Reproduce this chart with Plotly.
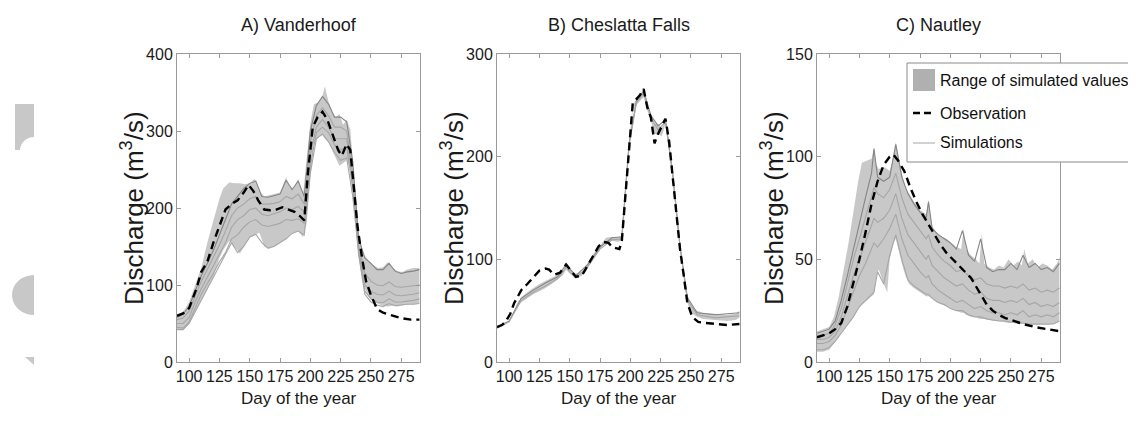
import plotly.graph_objects as go

# ---------------- data ----------------
tick_days = [100, 125, 150, 175, 200, 225, 250, 275]

# A) Vanderhoof
A_obs_days = [90, 95, 100, 103, 106, 110, 115, 120, 125, 130, 135, 140, 145, 149, 153, 157, 162, 167, 172, 177,
              182, 187, 191, 195, 198, 202, 206, 210, 214, 219, 223, 226, 230, 233, 236, 239, 243, 246, 250, 255,
              260, 267, 275, 283, 290]
A_obs = [60, 63, 70, 84, 95, 117, 130, 155, 177, 198, 205, 210, 220, 230, 222, 210, 198, 197, 198, 201,
         198, 195, 190, 184, 245, 305, 318, 325, 315, 292, 275, 268, 283, 275, 225, 175, 132, 105, 87, 69,
         64, 61, 57, 55, 55]
A_band_days = [90, 95, 100, 105, 110, 115, 120, 125, 128, 133, 138, 142, 146, 150, 154, 158, 162, 166, 170, 175,
               180, 183, 186, 190, 194, 197, 200, 203, 207, 210, 212, 215, 218, 221, 224, 227, 230, 233, 236, 240,
               244, 248, 252, 256, 260, 264, 268, 272, 276, 280, 285, 290]
A_upper = [62, 65, 78, 100, 122, 155, 185, 212, 225, 233, 232, 232, 231, 232, 238, 222, 215, 216, 218, 220,
           240, 228, 225, 238, 218, 260, 310, 335, 337, 345, 358, 338, 325, 318, 322, 308, 315, 302, 240, 165,
           140, 132, 126, 122, 123, 130, 122, 118, 117, 120, 122, 122]
A_lower = [42, 42, 50, 65, 80, 95, 110, 135, 145, 157, 148, 141, 152, 162, 165, 168, 150, 147, 150, 155,
           160, 165, 168, 170, 162, 180, 240, 285, 292, 295, 290, 285, 275, 265, 255, 258, 262, 250, 200, 140,
           100, 85, 78, 75, 73, 72, 73, 72, 74, 75, 75, 76]
A_sim_days = [90, 95, 100, 105, 110, 115, 120, 125, 130, 135, 140, 145, 150, 155, 160, 165, 170, 175, 180, 185,
              190, 195, 200, 205, 210, 215, 220, 225, 230, 235, 240, 245, 250, 255, 260, 265, 270, 275, 280, 285, 290]
A_sim1 = [58, 62, 72, 92, 112, 128, 145, 165, 185, 205, 215, 225, 232, 235, 215, 214, 216, 218, 236, 224,
          235, 215, 300, 333, 345, 335, 318, 318, 312, 260, 160, 135, 128, 120, 120, 128, 118, 115, 117, 118, 120]
A_sim2 = [55, 57, 66, 85, 105, 120, 135, 152, 170, 190, 200, 205, 212, 215, 205, 205, 206, 208, 215, 212,
          218, 205, 285, 320, 330, 320, 305, 305, 300, 245, 150, 115, 105, 100, 99, 104, 98, 97, 98, 99, 100]
A_sim3 = [50, 50, 58, 78, 95, 110, 125, 140, 155, 175, 185, 190, 198, 200, 192, 190, 192, 195, 200, 198,
          202, 195, 270, 305, 315, 305, 290, 290, 290, 235, 145, 100, 92, 88, 87, 92, 87, 86, 87, 88, 90]
A_sim4 = [45, 44, 52, 70, 88, 102, 115, 130, 142, 160, 165, 175, 182, 185, 178, 176, 178, 180, 185, 184,
          186, 180, 255, 298, 305, 298, 282, 275, 280, 225, 140, 92, 82, 78, 77, 82, 78, 78, 79, 80, 82]
A_sim5 = [42, 42, 50, 65, 80, 95, 110, 125, 140, 155, 142, 150, 162, 166, 155, 148, 150, 155, 160, 167,
          170, 165, 245, 290, 296, 286, 272, 262, 265, 215, 138, 88, 78, 74, 72, 76, 73, 74, 75, 75, 76]

# B) Cheslatta Falls
B_obs_days = [90, 94, 97, 101, 104, 107, 110, 115, 120, 125, 130, 133, 137, 142, 147, 151, 155, 160, 166, 170,
              174, 178, 182, 185, 188, 191, 193, 196, 199, 202, 205, 208, 211, 214, 217, 220, 222, 225, 229, 232,
              235, 238, 241, 244, 247, 251, 256, 262, 270, 280, 290]
B_obs = [34, 36, 39, 47, 57, 63, 70, 76, 83, 89, 91, 90, 85, 87, 95, 89, 83, 84, 97, 105,
         113, 117, 116, 112, 111, 110, 118, 160, 210, 252, 256, 260, 266, 248, 238, 213, 220, 228, 237, 215,
         182, 145, 110, 85, 58, 44, 39, 38, 37, 36, 37]
B_band_days = [90, 95, 100, 104, 107, 110, 115, 120, 125, 130, 135, 140, 144, 147, 150, 155, 160, 165, 170, 175,
               180, 185, 190, 193, 196, 199, 202, 205, 208, 211, 214, 217, 220, 223, 226, 229, 232, 235, 238, 241,
               244, 247, 250, 255, 260, 270, 280, 287, 290]
B_upper = [34, 36, 40, 50, 58, 63, 68, 72, 76, 79, 82, 85, 88, 96, 91, 86, 88, 97, 106, 114,
           121, 122, 121, 123, 165, 215, 250, 256, 260, 266, 250, 242, 232, 232, 228, 238, 215, 185, 148, 115,
           88, 66, 55, 50, 48, 47, 46, 47, 50]
B_lower = [33, 35, 39, 48, 55, 58, 62, 66, 69, 72, 76, 80, 84, 90, 86, 81, 84, 92, 102, 110,
           117, 118, 117, 119, 160, 210, 245, 250, 254, 258, 245, 235, 222, 222, 220, 232, 210, 180, 143, 110,
           82, 58, 48, 44, 42, 41, 40, 41, 43]
B_sim_days = [90, 100, 110, 120, 130, 140, 147, 155, 165, 175, 185, 193, 199, 205, 211, 217, 223, 229, 235, 241,
              247, 255, 270, 290]
B_sim1 = [34, 40, 62, 70, 77, 83, 95, 84, 95, 112, 121, 122, 213, 254, 264, 240, 230, 236, 183, 113, 63, 48, 46, 48]
B_sim2 = [33, 39, 60, 68, 74, 81, 92, 82, 93, 110, 119, 120, 211, 252, 262, 238, 226, 234, 182, 112, 61, 46, 43, 45]

# C) Nautley
C_obs_days = [90, 95, 100, 105, 110, 115, 120, 125, 130, 135, 140, 145, 150, 153, 157, 162, 167, 172, 177, 182,
              187, 192, 197, 202, 207, 212, 217, 221, 225, 230, 235, 240, 245, 250, 260, 270, 280, 290]
C_obs = [12, 13, 14, 16, 19, 27, 38, 50, 63, 77, 88, 96, 100, 101, 98, 93, 85, 78, 72, 67,
         62, 57, 53, 50, 47, 44, 41, 37, 33, 28, 25, 23, 21.5, 20.5, 18.5, 17, 16, 15]
C_band_days = [90, 95, 100, 104, 108, 112, 116, 120, 124, 127, 131, 135, 137, 139, 141, 145, 148, 150, 153, 155,
               157, 160, 163, 166, 170, 175, 180, 182, 185, 189, 193, 197, 201, 205, 209, 211, 213, 217, 221, 224,
               226, 228, 232, 236, 240, 244, 248, 252, 256, 259, 261, 264, 268, 272, 276, 280, 284, 288, 290]
C_upper = [15, 16, 17, 22, 32, 45, 58, 72, 88, 97, 98, 99, 104, 96, 94, 95, 94, 93, 100, 107,
           100, 92, 85, 82, 78, 74, 72, 79, 66, 63, 61, 60, 58, 56, 55, 65, 55, 52, 50, 48,
           63, 48, 46, 45, 47, 46, 50, 47, 49, 47, 55, 48, 50, 46, 48, 47, 45, 48, 51]
C_lower = [5, 5, 6, 9, 12, 16, 19, 22, 26, 28, 30, 32, 33, 42, 45, 38, 34, 50, 58, 60,
           55, 48, 42, 38, 36, 34, 32, 32, 31, 29, 28, 27, 26, 25, 24, 24, 23, 22, 22, 21,
           21, 21, 20.5, 20, 20, 19.5, 19, 19, 18.5, 18.5, 18.5, 18, 18, 18, 18, 18, 18.5, 19, 20]
C_sim_days = [90, 95, 100, 105, 110, 115, 120, 125, 130, 135, 137, 140, 145, 150, 155, 160, 165, 170, 175, 180,
              182, 185, 190, 195, 200, 205, 210, 215, 220, 225, 230, 235, 240, 245, 250, 255, 260, 265, 270, 275,
              280, 285, 290]
C_sim1 = [14, 15, 16, 20, 30, 42, 55, 68, 80, 92, 104, 90, 88, 90, 106, 90, 82, 77, 73, 70,
          78, 65, 62, 60, 58, 55, 64, 52, 49, 60, 46, 44, 45, 45, 48, 45, 52, 46, 48, 45, 46, 44, 48]
C_sim2 = [13, 13, 14, 18, 26, 38, 50, 60, 70, 80, 85, 82, 80, 84, 92, 80, 72, 68, 64, 60,
          62, 56, 52, 49, 47, 44, 45, 42, 40, 41, 38, 37, 37, 36, 37, 36, 38, 35, 36, 34, 35, 34, 36]
C_sim3 = [11, 11, 12, 15, 22, 32, 42, 50, 58, 66, 70, 68, 70, 74, 82, 70, 62, 58, 54, 50,
          52, 47, 44, 41, 39, 37, 38, 35, 33, 34, 31, 30, 30, 29, 30, 29, 31, 28, 29, 27, 28, 27, 29]
C_sim4 = [9, 9, 10, 13, 18, 26, 34, 42, 48, 55, 58, 56, 60, 65, 72, 60, 52, 48, 44, 41,
          42, 38, 35, 33, 31, 29, 30, 28, 26, 27, 25, 24, 24, 23, 24, 23, 25, 22, 23, 22, 23, 22, 24]
C_sim5 = [6, 6, 7, 10, 14, 18, 22, 27, 30, 33, 34, 44, 38, 52, 62, 50, 40, 37, 35, 33,
          33, 31, 29, 28, 26, 25, 25, 23, 22, 22, 21, 20.5, 20, 20, 19.5, 19, 19, 18.5, 18.5, 18.5, 18.5, 18.5, 20]

panel_titles = ["A) Vanderhoof", "B) Cheslatta Falls", "C) Nautley"]
y_ranges = [[0, 400], [0, 300], [0, 150]]
y_ticks = [[0, 100, 200, 300, 400], [0, 100, 200, 300], [0, 50, 100, 150]]
legend_labels = ["Range of simulated values", "Observation", "Simulations"]
x_title = "Day of the year"
y_title = "Discharge (m<sup>3</sup>/s)"

# ---------------- styling / layout ----------------
# page body keeps an 8px default margin, so the figure is 8px smaller and all
# target pixel positions below are given in window coordinates.
OFF = 8
W, H = 1136 - OFF, 427 - OFF
FONT = "Liberation Sans, Arial, sans-serif"
BAND = "#c8c8c8"
SIM_DARK = "#858585"
SIM = "#a6a6a6"
AX = "#9a9a9a"
TXT = "#1a1a1a"


def px(x):
    return (x - OFF) / W


def py(y):
    return 1 - (y - OFF) / H


x_pix = [(177, 420), (497, 740), (817, 1060)]
y_dom = [py(362), py(54)]

panels = [
    (A_obs_days, A_obs, A_band_days, A_lower, A_upper, A_sim_days, [A_sim1, A_sim2, A_sim3, A_sim4, A_sim5]),
    (B_obs_days, B_obs, B_band_days, B_lower, B_upper, B_sim_days, [B_sim1, B_sim2]),
    (C_obs_days, C_obs, C_band_days, C_lower, C_upper, C_sim_days, [C_sim1, C_sim2, C_sim3, C_sim4, C_sim5]),
]

fig = go.Figure()
for i, (od, ov, bd, lo, up, sd, sims) in enumerate(panels):
    xa = "x" if i == 0 else f"x{i+1}"
    ya = "y" if i == 0 else f"y{i+1}"
    fig.add_trace(go.Scatter(x=bd + bd[::-1], y=lo + up[::-1], fill="toself", fillcolor=BAND,
                             line=dict(width=0), mode="lines", xaxis=xa, yaxis=ya,
                             showlegend=False, hoverinfo="skip"))
    for k, s in enumerate(sims):
        fig.add_trace(go.Scatter(x=sd, y=s, mode="lines", xaxis=xa, yaxis=ya, showlegend=False,
                                 line=dict(color=SIM_DARK if k == 0 else SIM, width=1.1)))
    fig.add_trace(go.Scatter(x=od, y=ov, mode="lines", xaxis=xa, yaxis=ya, showlegend=False,
                             line=dict(color="black", width=2.4, dash="8px,5px")))

axis_common = dict(showline=True, linecolor=AX, linewidth=1, mirror="ticks", ticks="inside", ticklen=4,
                   tickcolor=AX, tickwidth=1, showgrid=False, zeroline=False, automargin=False,
                   tickangle=0, tickfont=dict(family=FONT, size=16, color=TXT))
layout = dict(template="none", width=W, height=H, margin=dict(l=0, r=0, t=0, b=0, pad=0),
              autosize=False, paper_bgcolor="white", plot_bgcolor="white", showlegend=False)
for i in range(3):
    xs = "xaxis" if i == 0 else f"xaxis{i+1}"
    ys = "yaxis" if i == 0 else f"yaxis{i+1}"
    xa = "x" if i == 0 else f"x{i+1}"
    ya = "y" if i == 0 else f"y{i+1}"
    layout[xs] = dict(domain=[px(x_pix[i][0]), px(x_pix[i][1])], range=[90, 290.5], tickvals=tick_days,
                      anchor=ya, **axis_common)
    layout[ys] = dict(domain=y_dom, range=y_ranges[i], tickvals=y_ticks[i], anchor=xa, **axis_common)
fig.update_layout(**layout)

ann = []
for i in range(3):
    cx = (x_pix[i][0] + x_pix[i][1]) / 2
    ann.append(dict(text=panel_titles[i], x=px(cx), y=py(25), xref="paper", yref="paper", showarrow=False,
                    font=dict(family=FONT, size=18, color=TXT), xanchor="center", yanchor="middle"))
    ann.append(dict(text=x_title, x=px(cx), y=py(398), xref="paper", yref="paper", showarrow=False,
                    font=dict(family=FONT, size=17, color=TXT), xanchor="center", yanchor="middle"))
    ann.append(dict(text=y_title, x=px(x_pix[i][0] - 44), y=py(208), xref="paper", yref="paper",
                    showarrow=False, textangle=-90,
                    font=dict(family=FONT, size=26, color=TXT), xanchor="center", yanchor="middle"))

# manual legend (panel C)
for j, yy in enumerate([81, 113, 143]):
    ann.append(dict(text=legend_labels[j], x=px(938), y=py(yy), xref="paper", yref="paper", showarrow=False,
                    font=dict(family=FONT, size=16, color="#111"), xanchor="left", yanchor="middle"))
fig.update_layout(annotations=ann)

shapes = [
    dict(type="rect", xref="paper", yref="paper", x0=px(907), x1=px(1133), y0=py(162), y1=py(63),
         fillcolor="white", line=dict(color="#8a8a8a", width=1), layer="above"),
    dict(type="rect", xref="paper", yref="paper", x0=px(913), x1=px(935), y0=py(91), y1=py(69),
         fillcolor="#b0b0b0", line=dict(width=0), layer="above"),
    dict(type="line", xref="paper", yref="paper", x0=px(913), x1=px(935), y0=py(113), y1=py(113),
         line=dict(color="black", width=2.4, dash="7px,4px"), layer="above"),
    dict(type="line", xref="paper", yref="paper", x0=px(913), x1=px(935), y0=py(143), y1=py(143),
         line=dict(color=SIM, width=1), layer="above"),
    # cropped decorative fragments at left edge
    dict(type="rect", xref="paper", yref="paper", x0=px(15), x1=px(34), y0=py(150), y1=py(104),
         fillcolor=BAND, line=dict(width=0)),
    dict(type="circle", xref="paper", yref="paper", x0=px(20), x1=px(48), y0=py(164), y1=py(137),
         fillcolor="white", line=dict(width=0)),
    dict(type="circle", xref="paper", yref="paper", x0=px(12), x1=px(56), y0=py(315), y1=py(275),
         fillcolor=BAND, line=dict(width=0)),
    dict(type="rect", xref="paper", yref="paper", x0=px(34), x1=px(60), y0=py(320), y1=py(270),
         fillcolor="white", line=dict(width=0)),
    dict(type="path", xref="paper", yref="paper",
         path=f"M {px(25)},{py(357)} L {px(34)},{py(357)} L {px(34)},{py(365)} Z",
         fillcolor=BAND, line=dict(width=0)),
]
fig.update_layout(shapes=shapes)

fig.write_html("out.html")
